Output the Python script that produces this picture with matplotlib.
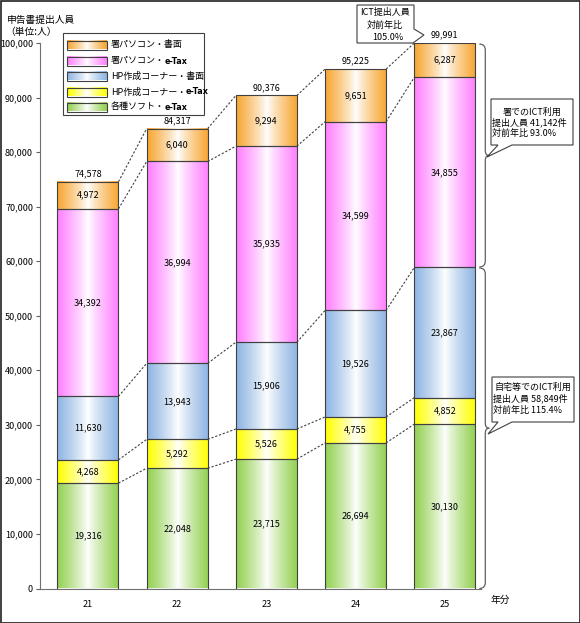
import numpy as np
import matplotlib
matplotlib.use("Agg")
import matplotlib.pyplot as plt
import matplotlib.colors as mcolors
from matplotlib.path import Path
from matplotlib.patches import PathPatch, Polygon, Rectangle

plt.rcParams['font.family'] = ['Noto Sans CJK JP', 'DejaVu Sans']

# ---------------- data ----------------
years = ['21', '22', '23', '24', '25']
series_names = ['各種ソフト・e-Tax', 'HP作成コーナー・e-Tax', 'HP作成コーナー・書面',
                '署パソコン・e-Tax', '署パソコン・書面']
soft_etax = [19316, 22048, 23715, 26694, 30130]
hp_etax = [4268, 5292, 5526, 4755, 4852]
hp_paper = [11630, 13943, 15906, 19526, 23867]
office_etax = [34392, 36994, 35935, 34599, 34855]
office_paper = [4972, 6040, 9294, 9651, 6287]
series_values = [soft_etax, hp_etax, hp_paper, office_etax, office_paper]
series_colors = ['#92D050', '#FFFF00', '#8DB4E2', '#FF7FFF', '#F7A530']

yticks = list(range(0, 100001, 10000))
callout_top = ['ICT提出人員', '対前年比', '105.0%']
callout_office = ['署でのICT利用', '提出人員 41,142件', '対前年比 93.0%']
callout_home = ['自宅等でのICT利用', '提出人員 58,849件', '対前年比 115.4%']

W, H = 580, 623
fig = plt.figure(figsize=(W / 100, H / 100), dpi=100)

# main axes (pixel layout)
axL, axR, axT, axB = 40, 481, 43, 588.5
ax = fig.add_axes([axL / W, (H - axB) / H, (axR - axL) / W, (axB - axT) / H])

def grad(color, n=96):
    c = np.array(mcolors.to_rgb(color))
    t = np.linspace(0, 1, n)
    w = np.clip(np.abs(t - 0.5) / 0.5, 0, 1) ** 0.85
    img = (1 - w)[:, None] * np.ones(3) + w[:, None] * c
    return img[None, :, :]

x = np.arange(len(years))
bw = 0.684
bottom = np.zeros(len(years))
cums = []
containers = []
for vals, col in zip(series_values, series_colors):
    bars = ax.bar(x, vals, bw, bottom=bottom, facecolor='none',
                  edgecolor='#404040', linewidth=0.8, zorder=3)
    img = grad(col)
    for p in bars.patches:
        ax.imshow(img, extent=(p.get_x(), p.get_x() + p.get_width(),
                               p.get_y(), p.get_y() + p.get_height()),
                  aspect='auto', interpolation='bilinear', zorder=2)
    ax.bar_label(bars, labels=[f'{v:,}' for v in vals], label_type='center',
                 fontsize=6.5, color='black', zorder=5)
    containers.append(bars)
    bottom = bottom + np.array(vals)
    cums.append(bottom.copy())

totals = bottom
ax.bar_label(containers[-1], labels=[f'{int(t):,}' for t in totals],
             padding=2.5, fontsize=6.5, color='black')

# dotted connectors
for lvl in cums:
    for i in range(len(years) - 1):
        ax.plot([x[i] + bw / 2, x[i + 1] - bw / 2], [lvl[i], lvl[i + 1]],
                ls=(0, (2, 1.6)), color='#404040', lw=0.8, zorder=4)

ax.set_xlim(-0.538, 4.406)
ax.set_ylim(0, 100000)
ax.set_yticks(yticks)
ax.set_yticklabels([f'{v:,}' for v in yticks], fontsize=6.5)
ax.set_xticks(x)
ax.set_xticklabels(years, fontsize=6.5)
ax.tick_params(axis='y', direction='out', length=3, width=0.8, color='#606060', pad=2)
ax.tick_params(axis='x', length=0, pad=8)
for s in ['top', 'right']:
    ax.spines[s].set_visible(False)
for s in ['left', 'bottom']:
    ax.spines[s].set_color('#707070')
    ax.spines[s].set_linewidth(0.8)

# ---------------- overlay in pixel coords ----------------
ov = fig.add_axes([0, 0, 1, 1], zorder=10)
ov.set_xlim(0, W)
ov.set_ylim(0, H)
ov.axis('off')
ov.patch.set_alpha(0)

def P(px, py):
    return (px, H - py)

fs = 6.5
# y-axis title
ov.text(*P(7, 20), '申告書提出人員', fontsize=7, ha='left', va='center')
ov.text(*P(5, 32), '（単位:人）', fontsize=7, ha='left', va='center')
ov.text(*P(500, 600), '年分', fontsize=7, ha='center', va='center')

# legend
lx0, ly0, lx1, ly1 = 63, 33, 204, 115
ov.add_patch(Rectangle(P(lx0, ly1), lx1 - lx0, ly1 - ly0, facecolor='white',
                       edgecolor='#404040', lw=0.8, zorder=1))
leg_y = [45, 61, 76, 92, 107]
for k, idx in enumerate([4, 3, 2, 1, 0]):
    yc = leg_y[k]
    ov.imshow(grad(series_colors[idx]), extent=(67, 107, H - yc - 4.5, H - yc + 4.5),
              aspect='auto', interpolation='bilinear', zorder=2)
    ov.add_patch(Rectangle((67, H - yc - 4.5), 40, 9, facecolor='none',
                           edgecolor='#404040', lw=0.8, zorder=3))
    name = series_names[idx]
    if name.endswith('e-Tax'):
        t1 = ov.text(*P(111, yc), name[:-5], fontsize=fs, ha='left', va='center', zorder=4)
        ov.annotate('e-Tax', xy=(1, 0.5), xycoords=t1, ha='left', va='center',
                    fontsize=5.8, fontweight='bold', zorder=4, family='DejaVu Sans')
    else:
        ov.text(*P(111, yc), name, fontsize=fs, ha='left', va='center', zorder=4)

# braces
def brace(xp, y0, y1):
    ym = (y0 + y1) / 2
    verts = [(xp - 6, y0), (xp, y0), (xp, y0 - 6), (xp, ym + 5), (xp, ym), (xp + 4, ym),
             (xp, ym), (xp, ym - 5), (xp, y1 + 6), (xp, y1), (xp - 6, y1)]
    codes = [Path.MOVETO, Path.CURVE3, Path.CURVE3, Path.LINETO, Path.CURVE3, Path.CURVE3,
             Path.CURVE3, Path.CURVE3, Path.LINETO, Path.CURVE3, Path.CURVE3]
    ov.add_patch(PathPatch(Path(verts, codes), facecolor='none', edgecolor='#606060', lw=0.9))

def d2p(xd, yd):
    return ax.transData.transform((xd, yd))

ict_home_total = cums[2][-1]
top_total = cums[4][-1]
bx = d2p(x[-1] + bw / 2, 0)[0] + 10
brace(bx, d2p(0, top_total)[1] - 1, d2p(0, ict_home_total)[1] + 0.5)
brace(bx, d2p(0, ict_home_total)[1] - 0.5, d2p(0, 0)[1])

def callout(poly_px):
    ov.add_patch(Polygon([P(a, b) for a, b in poly_px], closed=True, facecolor='white',
                         edgecolor='#404040', lw=0.8, zorder=5))

# top callout
callout([(357, 5), (414, 5), (414, 29), (424, 35), (413, 43), (357, 43)])
ov.text(*P(385, 12), callout_top[0], fontsize=fs, ha='center', va='center', zorder=6)
ov.text(*P(385, 25), callout_top[1], fontsize=fs, ha='center', va='center', zorder=6)
ov.text(*P(388, 37), callout_top[2], fontsize=fs, ha='center', va='center', zorder=6)

# office callout
callout([(491, 99), (573, 99), (573, 145), (512, 145), (487, 157), (498, 145), (491, 145)])
ov.text(*P(532, 112), callout_office[0], fontsize=fs, ha='center', va='center', zorder=6)
ov.text(*P(492, 122), callout_office[1], fontsize=fs, ha='left', va='center', zorder=6)
ov.text(*P(492, 133), callout_office[2], fontsize=fs, ha='left', va='center', zorder=6)

# home callout
callout([(492, 377), (574, 377), (574, 422), (512, 422), (488, 434), (498, 422), (492, 422)])
ov.text(*P(533, 387), callout_home[0], fontsize=fs, ha='center', va='center', zorder=6)
ov.text(*P(493, 398), callout_home[1], fontsize=fs, ha='left', va='center', zorder=6)
ov.text(*P(493, 410), callout_home[2], fontsize=fs, ha='left', va='center', zorder=6)

# outer frame
ov.add_patch(Rectangle((0.5, 0.5), W - 1, H - 1, facecolor='none', edgecolor='#202020', lw=1.2))

fig.savefig('out.png', dpi=100)
